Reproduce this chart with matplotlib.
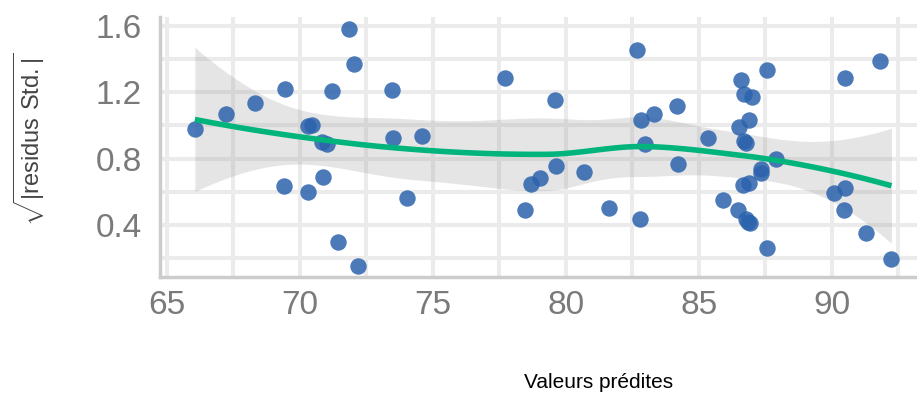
import numpy as np
import matplotlib
matplotlib.use("Agg")
import matplotlib.pyplot as plt
from matplotlib.ticker import MultipleLocator

# Fitted values and sqrt(|standardized residuals|) of the model
fitted = [66.05, 67.22, 68.33, 69.45, 69.41, 70.31, 70.46, 70.31, 70.82, 71.03,
          70.88, 71.21, 71.42, 71.84, 72.04, 72.17, 73.45, 73.51, 74.02, 74.58,
          77.71, 79.58, 78.46, 78.67, 79.02, 79.62, 80.69, 81.63, 82.66, 82.78,
          82.81, 82.97, 83.32, 84.16, 84.20, 85.34, 85.89, 86.48, 86.57, 86.52,
          86.69, 86.98, 86.88, 86.69, 86.77, 86.67, 86.88, 86.77, 86.92, 86.86,
          87.32, 87.32, 87.55, 87.55, 87.89, 90.07, 90.49, 90.49, 90.45, 91.27,
          91.80, 92.24]
sqrt_std_resid = [0.979, 1.069, 1.137, 1.218, 0.637, 0.601, 1.001, 0.997, 0.902, 0.888,
                  0.687, 1.206, 0.299, 1.582, 1.369, 0.152, 1.212, 0.926, 0.563, 0.937,
                  1.286, 1.154, 0.490, 0.645, 0.681, 0.756, 0.718, 0.502, 1.455, 0.436,
                  1.033, 0.888, 1.071, 1.119, 0.768, 0.925, 0.553, 0.488, 1.272, 0.993,
                  1.188, 1.172, 1.033, 0.908, 0.892, 0.641, 0.655, 0.436, 0.414, 0.420,
                  0.715, 0.740, 1.333, 0.263, 0.796, 0.595, 0.625, 1.286, 0.490, 0.350,
                  1.391, 0.195]

x_ticks = [65, 70, 75, 80, 85, 90]
y_ticks = [0.4, 0.8, 1.2, 1.6]


def local_fit_rows(x, x0, span):
    """Operator rows giving the local quadratic value and slope at x0."""
    n = len(x)
    q = int(np.floor(n * span))
    d = np.abs(x - x0)
    h = np.sort(d)[q - 1]
    u = np.clip(d / h, 0, 1)
    w = (1 - u ** 3) ** 3
    X = np.column_stack([np.ones(n), x - x0, (x - x0) ** 2])
    XtW = X.T * w
    B = np.linalg.solve(XtW @ X, XtW)
    return B[0], B[1]


def kd_vertices(x, span, cell=0.2):
    """Cell boundaries from recursive median splits of the sorted x."""
    xs = np.sort(x)
    fc = int(np.floor(len(x) * span * cell))
    rng = xs[-1] - xs[0]
    verts = [xs[0] - 0.005 * rng, xs[-1] + 0.005 * rng]

    def split(lo, hi):
        if hi - lo + 1 <= fc:
            return
        m = (lo + hi) // 2
        verts.append(0.5 * (xs[m] + xs[m + 1]))
        split(lo, m)
        split(m + 1, hi)

    split(0, len(xs) - 1)
    return np.unique(verts)


def loess_operator(x, x_eval, span=0.75):
    """Smoother matrix rows, Hermite-interpolated between kd vertices."""
    verts = kd_vertices(x, span)
    vals, slopes = zip(*(local_fit_rows(x, v, span) for v in verts))
    vals, slopes = np.array(vals), np.array(slopes)
    L = np.zeros((len(x_eval), len(x)))
    for i, x0 in enumerate(x_eval):
        j = np.clip(np.searchsorted(verts, x0) - 1, 0, len(verts) - 2)
        a, b = verts[j], verts[j + 1]
        hw = b - a
        t = (x0 - a) / hw
        h00 = 2 * t ** 3 - 3 * t ** 2 + 1
        h10 = t ** 3 - 2 * t ** 2 + t
        h01 = -2 * t ** 3 + 3 * t ** 2
        h11 = t ** 3 - t ** 2
        L[i] = (h00 * vals[j] + h10 * hw * slopes[j]
                + h01 * vals[j + 1] + h11 * hw * slopes[j + 1])
    return L


def t_quantile(df, z=1.959964):
    g1 = (z ** 3 + z) / 4
    g2 = (5 * z ** 5 + 16 * z ** 3 + 3 * z) / 96
    g3 = (3 * z ** 7 + 19 * z ** 5 + 17 * z ** 3 - 15 * z) / 384
    return z + g1 / df + g2 / df ** 2 + g3 / df ** 3


x = np.asarray(fitted)
y = np.asarray(sqrt_std_resid)

L_obs = loess_operator(x, x)
resid = y - L_obs @ y
IL = np.eye(len(x)) - L_obs
R = IL.T @ IL
delta1 = np.trace(R)
delta2 = np.trace(R @ R)
s = np.sqrt(np.sum(resid ** 2) / delta1)
dof = delta1 ** 2 / delta2

x_grid = np.linspace(x.min(), x.max(), 120)
L_grid = loess_operator(x, x_grid)
smooth = L_grid @ y
se = s * np.sqrt(np.sum(L_grid ** 2, axis=1))
tq = t_quantile(dof)

plt.rcParams['font.family'] = ['Liberation Sans', 'DejaVu Sans']
plt.rcParams['mathtext.fontset'] = 'custom'
plt.rcParams['mathtext.rm'] = 'Liberation Sans'

fig = plt.figure(figsize=(9.17, 3.96), dpi=100)
ax = fig.add_axes([160 / 917, 1 - 277 / 396, 1 - 160 / 917, (277 - 17) / 396])

ax.set_xlim(64.74, 93.2)
ax.set_ylim(0.086, 1.654)

ax.xaxis.set_minor_locator(MultipleLocator(2.5))
ax.yaxis.set_minor_locator(MultipleLocator(0.2))
ax.set_xticks(x_ticks)
ax.set_yticks(y_ticks)
ax.set_yticklabels([f"{v:.1f}" for v in y_ticks])

grid_col = '#ebebeb'
ax.grid(which='major', color=grid_col, linewidth=2.9)
ax.grid(which='minor', color=grid_col, linewidth=2.9)
ax.set_axisbelow(True)

for side in ('top', 'right'):
    ax.spines[side].set_visible(False)
for side in ('left', 'bottom'):
    ax.spines[side].set_color('#cccccc')
    ax.spines[side].set_linewidth(2.5)

ax.tick_params(which='both', length=0)
ax.tick_params(axis='x', labelsize=24, labelcolor='#7a7a7a', pad=9)
ax.tick_params(axis='y', labelsize=24, labelcolor='#7a7a7a', pad=13)

ax.fill_between(x_grid, smooth - tq * se, smooth + tq * se,
                color='#999999', alpha=0.25, linewidth=0, zorder=2)
ax.scatter(x, y, s=140, color='#2c63ad', alpha=0.85, linewidths=0, zorder=3)
ax.plot(x_grid, smooth, color='#00b47c', linewidth=4, zorder=4,
        solid_capstyle='butt')

fig.text(599 / 917, 1 - 383 / 396, 'Valeurs prédites', ha='center', va='center',
         fontsize=15, color='black')
fig.text(29 / 917, 1 - 139 / 396, r'$\sqrt{|\mathrm{residus\ Std.}|}$',
         rotation=90, ha='center', va='center', fontsize=17, color='#444444')

fig.savefig('out.png', dpi=100)
